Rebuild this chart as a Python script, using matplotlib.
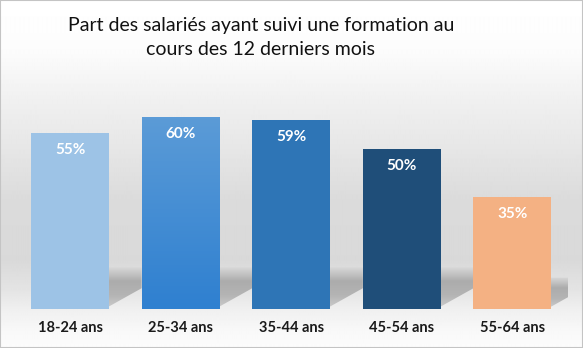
#!/usr/bin/env python3
"""
Bar chart: share of employees who took a training course in the last 12 months,
by age group.
"""

import numpy as np
import matplotlib

matplotlib.use("Agg")
import matplotlib.pyplot as plt
from matplotlib.colors import LinearSegmentedColormap
from matplotlib.patches import Polygon, Rectangle

# Data
age_groups = ["18-24 ans", "25-34 ans", "35-44 ans", "45-54 ans", "55-64 ans"]
share_pct = [55, 60, 59, 50, 35]
bar_colors = ["#9DC3E6", "#4A90D6", "#2E75B6", "#1F4E79", "#F4B183"]
title = "Part des salariés ayant suivi une formation au\ncours des 12 derniers mois"

plt.rcParams["font.family"] = ["Lato", "DejaVu Sans"]

W, H = 583, 348
fig = plt.figure(figsize=(W / 100, H / 100), dpi=100)

# Background: soft vertical grey gradient over the whole figure
bg_ax = fig.add_axes([0, 0, 1, 1], zorder=-10)
stops_y = [0, 50, 100, 150, 200, 260, 290, 310, 330, 348]
stops_v = [255, 252, 240, 230, 219, 217, 228, 240, 248, 252]
rows = np.interp(np.arange(H), stops_y, stops_v) / 255.0
bg = np.repeat(rows[:, None], 4, axis=1)
bg_ax.imshow(bg, cmap="gray", vmin=0, vmax=1, aspect="auto",
             extent=[0, 1, 0, 1], interpolation="bilinear")
bg_ax.set_axis_off()

# Plot area
ax = fig.add_axes([14.7 / W, 39 / H, 553.1 / W, 224 / H])
ax.set_facecolor("none")
for side in ax.spines.values():
    side.set_visible(False)
ax.set_yticks([])

x = np.arange(len(age_groups))
width = 0.705
gap = 1 - width

# Cast shadows behind each bar (row 0 of the gradient sits at the top)
shade = LinearSegmentedColormap.from_list(
    "shade", ["#d8d8d8", "#acacac", "#b4b4b4", "#cdcdcd"])
for xi, v in zip(x, share_pct):
    x0, x1 = xi - width / 2, xi + width / 2
    top = min(13, 0.28 * v)
    poly = Polygon([(x0, 0), (x0, top), (x1 + gap, top),
                    (x1 + gap, 6.5), (x1, 0.8)], closed=True,
                   facecolor="none", edgecolor="none")
    ax.add_patch(poly)
    grad = np.linspace(0, 1, 64)[:, None]
    im = ax.imshow(grad, cmap=shade, aspect="auto",
                   extent=[x0, x1 + gap, 0, top], zorder=1,
                   interpolation="bilinear")
    im.set_clip_path(poly)

# Bars
bars = ax.bar(x, share_pct, width=width, color=bar_colors, zorder=3)

# 25-34 bar gets a light-top / deeper-bottom gradient fill
b = bars[1]
b.set_facecolor("none")
blue_grad = LinearSegmentedColormap.from_list("blue", ["#5B9BD7", "#2F80D0"])
gim = ax.imshow(np.linspace(0, 1, 64)[:, None], cmap=blue_grad, aspect="auto",
                extent=[b.get_x(), b.get_x() + b.get_width(), 0, b.get_height()],
                zorder=3, interpolation="bilinear")
gim.set_clip_path(b)

ax.set_xlim(-0.5, len(age_groups) - 0.5)
ax.set_ylim(0, 70)

# Value labels inside the top of each bar
for xi, v in zip(x, share_pct):
    ax.text(xi, v - 5.3, f"{v}%", ha="center", va="center",
            color="white", fontsize=11, fontweight="bold", zorder=5)

ax.set_xticks(x)
ax.set_xticklabels(age_groups, fontsize=10.5, fontweight="bold", color="#1a1a1a")
ax.tick_params(axis="x", length=0, pad=9)

fig.text(261 / W, 1 - 17 / H, title, ha="center", va="top",
         fontsize=14, color="#111111", linespacing=1.5)

# Thin frame around the figure
fig.patches.append(Rectangle((0, 0), 1, 1, transform=fig.transFigure,
                             fill=False, edgecolor="#c4c4c4", linewidth=1.5))

fig.savefig("out.png", dpi=100)
